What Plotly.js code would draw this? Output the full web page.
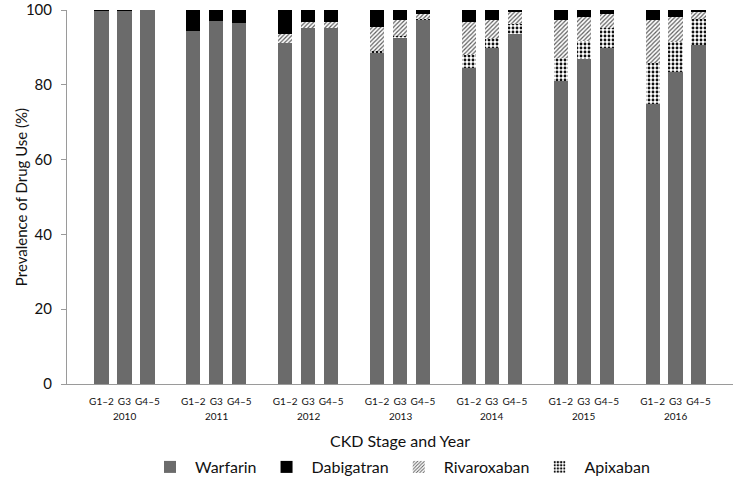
<!DOCTYPE html>
<html>
<head>
<meta charset="utf-8">
<script src="https://cdn.plot.ly/plotly-3.0.1.min.js"></script>
<style>html,body{margin:0;padding:0;background:#fff;}#chart{width:734px;height:478px;}</style>
</head>
<body>
<div id="chart"></div>
<script>
const years = ['2010','2011','2012','2013','2014','2015','2016'];
const stages = ['G1–2','G3','G4–5'];

// values per year, in stage order G1–2, G3, G4–5
const warfarin = [
  [99.7, 99.7, 100.0],
  [94.3, 97.1, 96.6],
  [91.2, 95.3, 95.3],
  [88.5, 92.6, 97.2],
  [84.4, 89.8, 93.7],
  [81.1, 86.9, 89.9],
  [75.0, 83.5, 90.6]
];
const apixaban = [
  [0, 0, 0],
  [0, 0, 0],
  [0, 0, 0],
  [0.5, 0.4, 0.4],
  [3.5, 2.5, 2.6],
  [6.1, 4.8, 5.3],
  [10.9, 7.9, 7.0]
];
const rivaroxaban = [
  [0, 0, 0],
  [0, 0, 0],
  [2.3, 1.4, 1.4],
  [6.4, 4.2, 1.3],
  [8.8, 5.1, 3.2],
  [10.0, 6.5, 3.6],
  [11.5, 6.8, 2.0]
];
const dabigatran = [
  [0.3, 0.3, 0],
  [5.7, 2.9, 3.4],
  [6.5, 3.3, 3.3],
  [4.6, 2.8, 1.1],
  [3.3, 2.6, 0.5],
  [2.8, 1.8, 1.2],
  [2.6, 1.8, 0.4]
];
const yTicks = [0, 20, 40, 60, 80, 100];

// slot layout: 3 stage bars per year and one empty slot between years
const SLOTS = stages.length + 1;
const xs = [], tickText = [];
years.forEach((y, yi) => stages.forEach((s, si) => { xs.push(yi * SLOTS + si); tickText.push(s); }));
const flat = a => a.flat();

const FONT = 'Lato, "Open Sans", sans-serif';
const TXT = '#111111';
const BW = 0.62;

const traces = [
  {name: 'Warfarin', y: flat(warfarin), legendrank: 1,
   marker: {color: '#6b6b6b'}},
  {name: 'Apixaban', y: flat(apixaban), legendrank: 4,
   marker: {color: '#ffffff', pattern: {shape: '.', fgcolor: '#111111', bgcolor: '#ffffff', size: 4, solidity: 0.4}}},
  {name: 'Rivaroxaban', y: flat(rivaroxaban), legendrank: 3,
   marker: {color: '#ffffff', pattern: {shape: '/', fgcolor: '#5e5e5e', bgcolor: '#ffffff', size: 3, solidity: 0.4}}},
  {name: 'Dabigatran', y: flat(dabigatran), legendrank: 2,
   marker: {color: '#000000'}}
].map(t => Object.assign({type: 'bar', x: xs, width: BW, hoverinfo: 'skip'}, t));

const yearAnnotations = years.map((y, yi) => ({
  x: yi * SLOTS + (stages.length - 1) / 2, xref: 'x',
  y: 0, yref: 'paper', yanchor: 'middle', yshift: -32,
  text: y, showarrow: false, font: {family: FONT, size: 10, color: TXT}
}));

const layout = {
  width: 734, height: 478,
  margin: {l: 67, r: 1, t: 10, b: 94},
  paper_bgcolor: '#ffffff', plot_bgcolor: '#ffffff',
  barmode: 'stack',
  font: {family: FONT, color: TXT},
  showlegend: true,
  legend: {orientation: 'h', x: 0.5, xanchor: 'center', xref: 'paper',
           y: 0.023, yref: 'container', yanchor: 'middle', itemwidth: 40,
           traceorder: 'normal', font: {family: FONT, size: 16, color: TXT}},
  xaxis: {
    range: [-1.5, years.length * SLOTS - 0.5],
    tickvals: xs, ticktext: tickText, tickfont: {family: FONT, size: 10, color: TXT},
    ticks: '', ticklabelstandoff: 8,
    showline: true, linecolor: '#9a9a9a', linewidth: 1,
    showgrid: false, zeroline: false, fixedrange: true, automargin: false,
    title: {text: 'CKD Stage and Year', font: {family: FONT, size: 16, color: TXT}, standoff: 30}
  },
  yaxis: {
    range: [0, 100], tickvals: yTicks,
    tickfont: {family: FONT, size: 15, color: TXT},
    ticks: 'outside', ticklen: 5, tickcolor: '#9a9a9a', ticklabelstandoff: 6,
    ticklabeloverflow: 'allow',
    showline: true, linecolor: '#9a9a9a', linewidth: 1,
    showgrid: false, zeroline: false, fixedrange: true, automargin: false,
    title: {text: 'Prevalence of Drug Use (%)', font: {family: FONT, size: 15, color: TXT}}
  },
  annotations: yearAnnotations
};

Plotly.newPlot('chart', traces, layout, {displayModeBar: false, staticPlot: true});
</script>
</body>
</html>
